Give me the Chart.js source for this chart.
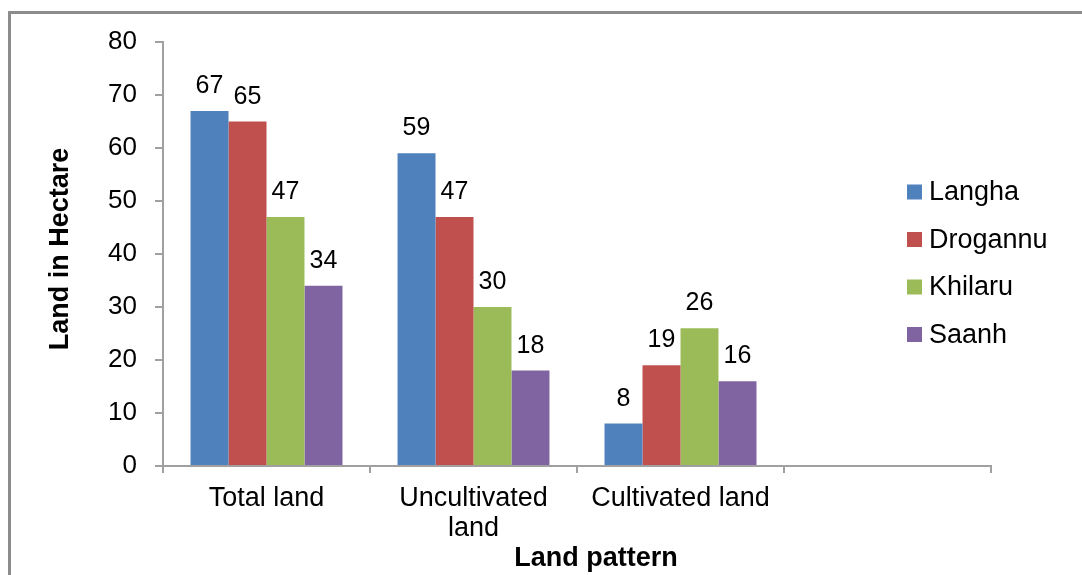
<!DOCTYPE html>
<html>
<head>
<meta charset="utf-8">
<script src="https://cdn.jsdelivr.net/npm/chart.js@4/dist/chart.umd.min.js"></script>
<style>
  html, body { margin: 0; padding: 0; background: #fff; overflow: hidden; }
  #wrap { position: relative; width: 1082px; height: 575px; }
  #frame {
    position: absolute; left: 8px; top: 11px; width: 1200px; height: 700px;
    border-left: 3px solid #8c8c8c; border-top: 3px solid #8c8c8c;
  }
  canvas { position: absolute; left: 0; top: 0; }
</style>
</head>
<body>
<div id="wrap">
  <div id="frame"></div>
  <canvas id="chart" width="1082" height="575"></canvas>
</div>
<script>
// Land area (hectare) by land pattern for each village
const categories = ['Total land', ['Uncultivated', 'land'], 'Cultivated land', ''];
const langha   = [67, 59, 8, null];
const drogannu = [65, 47, 19, null];
const khilaru  = [47, 30, 26, null];
const saanh    = [34, 18, 16, null];
const seriesNames = ['Langha', 'Drogannu', 'Khilaru', 'Saanh'];
const seriesColors = ['#4F81BD', '#C0504D', '#9BBB59', '#8064A2'];
const yTicks = [0, 10, 20, 30, 40, 50, 60, 70, 80];
const xTitle = 'Land pattern';
const yTitle = 'Land in Hectare';

const FONT = '"Liberation Sans", Arial, sans-serif';
const AXIS_COLOR = '#a0a0a0';

// Value labels above bars, side legend and axis titles
const decorations = {
  id: 'decorations',
  afterDatasetsDraw(chart) {
    const ctx = chart.ctx;
    ctx.save();
    ctx.fillStyle = '#000';
    ctx.font = '25px ' + FONT;
    ctx.textAlign = 'center';
    ctx.textBaseline = 'alphabetic';
    chart.data.datasets.forEach((ds, di) => {
      const meta = chart.getDatasetMeta(di);
      meta.data.forEach((bar, i) => {
        const v = ds.data[i];
        if (v === null || v === undefined) return;
        ctx.fillText(String(v), bar.x, bar.y - 18);
      });
    });

    // legend
    const lx = 907, ly = 192, step = 47.5, box = 15;
    ctx.font = '27px ' + FONT;
    ctx.textAlign = 'left';
    chart.data.datasets.forEach((ds, di) => {
      const cy = ly + di * step;
      ctx.fillStyle = ds.backgroundColor;
      ctx.fillRect(lx, cy - box / 2, box, box);
      ctx.fillStyle = '#000';
      ctx.fillText(ds.label, lx + 22, cy + 8);
    });

    // axis titles
    const xs = chart.scales.x, ys = chart.scales.y;
    ctx.font = 'bold 27px ' + FONT;
    ctx.textAlign = 'center';
    ctx.fillText(xTitle, (xs.left + xs.right) / 2 + 19, 566);
    ctx.translate(68, (ys.top + ys.bottom) / 2 - 5);
    ctx.rotate(-Math.PI / 2);
    ctx.fillText(yTitle, 0, 0);
    ctx.restore();
  }
};

const datasets = [langha, drogannu, khilaru, saanh].map((d, i) => ({
  label: seriesNames[i],
  data: d,
  backgroundColor: seriesColors[i],
  borderWidth: 0,
  categoryPercentage: 0.734,
  barPercentage: 1.0
}));

new Chart(document.getElementById('chart'), {
  type: 'bar',
  data: { labels: categories, datasets },
  plugins: [decorations],
  options: {
    responsive: false,
    animation: false,
    devicePixelRatio: 1,
    layout: { padding: { left: 0, right: 91, top: 42, bottom: 0 } },
    plugins: {
      legend: { display: false },
      tooltip: { enabled: false },
      title: { display: false }
    },
    scales: {
      x: {
        offset: true,
        grid: {
          offset: true,
          drawOnChartArea: false,
          drawTicks: true,
          tickLength: 7,
          color: AXIS_COLOR,
          lineWidth: 2
        },
        border: { display: true, color: AXIS_COLOR, width: 2 },
        ticks: {
          color: '#000',
          padding: 11,
          maxRotation: 0,
          autoSkip: false,
          font: { family: FONT, size: 27, lineHeight: 1.11 }
        },
        afterFit(scale) { scale.height = 109; }
      },
      y: {
        min: 0,
        max: 80,
        afterBuildTicks(scale) { scale.ticks = yTicks.map(v => ({ value: v })); },
        grid: {
          drawOnChartArea: false,
          drawTicks: true,
          tickLength: 8,
          color: AXIS_COLOR,
          lineWidth: 2
        },
        border: { display: true, color: AXIS_COLOR, width: 2 },
        ticks: {
          color: '#000',
          padding: 18,
          font: { family: FONT, size: 26 }
        },
        afterFit(scale) { scale.width = 163; }
      }
    }
  }
});
</script>
</body>
</html>
